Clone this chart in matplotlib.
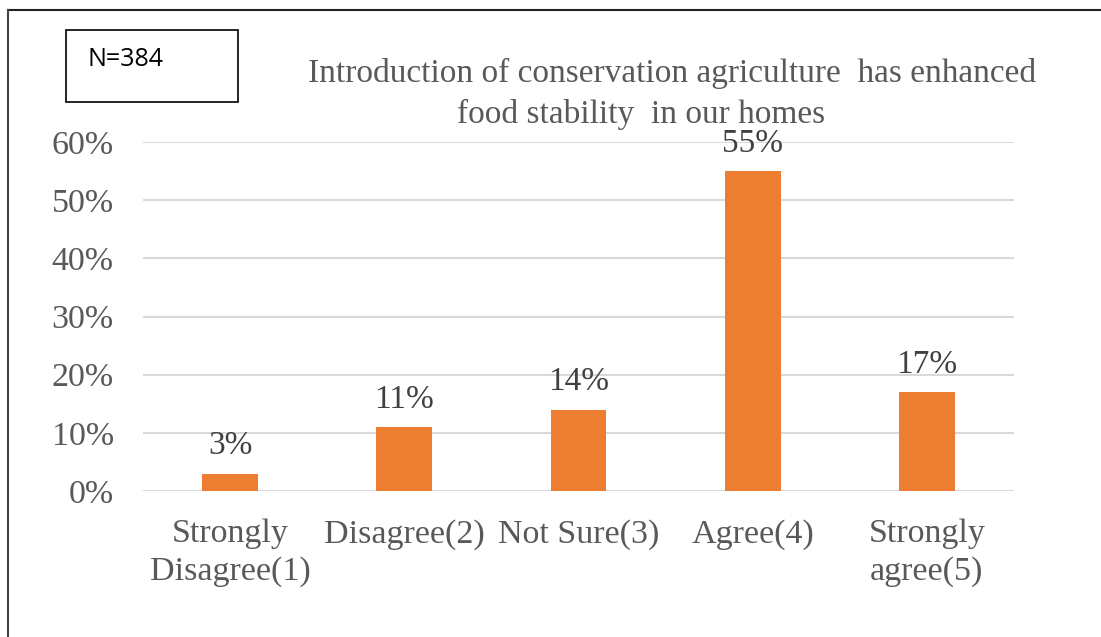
import matplotlib
matplotlib.use("Agg")
import matplotlib.pyplot as plt
from matplotlib.patches import Rectangle
from matplotlib.lines import Line2D
from matplotlib.ticker import PercentFormatter

categories = ["Strongly\nDisagree(1)", "Disagree(2)", "Not Sure(3)", "Agree(4)", "Strongly\nagree(5)"]
shares = [3, 11, 14, 55, 17]
y_ticks = [0, 10, 20, 30, 40, 50, 60]
title_lines = ["Introduction of conservation agriculture  has enhanced",
               "food stability  in our homes"]
sample_note = "N=384"

serif = ["Liberation Serif", "DejaVu Serif"]
orange = "#ED7D31"
grey_txt = "#595959"

fig = plt.figure(figsize=(11.01, 6.37), dpi=100)
ax = fig.add_axes([143 / 1101, 1 - 491 / 637, (1014 - 143) / 1101, (491 - 142) / 637])

x = list(range(len(categories)))
bars = ax.bar(x, shares, width=0.32, color=orange, zorder=3)
for b, v in zip(bars, shares):
    ax.annotate(f"{v}%", (b.get_x() + b.get_width() / 2, v), xytext=(0, 9),
                textcoords="offset points", ha="center", va="bottom",
                fontsize=24, family=serif, color="#404040", annotation_clip=False)

ax.set_xlim(-0.5, len(categories) - 0.5)
ax.set_ylim(0, 60)
ax.set_yticks(y_ticks)
ax.yaxis.set_major_formatter(PercentFormatter(decimals=0))
ax.set_xticks(x)
ax.set_xticklabels(categories, linespacing=1.3)
for lab in ax.get_xticklabels() + ax.get_yticklabels():
    lab.set_family(serif)
    lab.set_fontsize(24.5)
    lab.set_color(grey_txt)
ax.tick_params(axis="y", length=0, pad=21)
ax.tick_params(axis="x", length=0, pad=20)
ax.grid(axis="y", color="#d9d9d9", linewidth=1.5, zorder=0)
for s in ax.spines.values():
    s.set_visible(False)

# title lines, placed by hand as in the source slide
fig.text(672 / 1101, 1 - 73 / 637, title_lines[0], ha="center", va="center",
         fontsize=24, family=serif, color=grey_txt)
fig.text(641 / 1101, 1 - 114 / 637, title_lines[1], ha="center", va="center",
         fontsize=24, family=serif, color=grey_txt)

# sample size box
fig.patches.append(Rectangle((66 / 1101, 1 - 102 / 637), 172 / 1101, 72 / 637,
                             transform=fig.transFigure, fill=False,
                             edgecolor="black", linewidth=1.2))
fig.text(87 / 1101, 1 - 60 / 637, sample_note, ha="left", va="center",
         fontsize=18, family=["Open Sans", "DejaVu Sans"], color="black")

# outer frame (top and left edges)
fig.lines.append(Line2D([8 / 1101, 1], [1 - 10 / 637] * 2, transform=fig.transFigure,
                        color="#222222", linewidth=1.5))
fig.lines.append(Line2D([8 / 1101] * 2, [0, 1 - 10 / 637], transform=fig.transFigure,
                        color="#444444", linewidth=1.5))

fig.savefig("out.png", dpi=100)
